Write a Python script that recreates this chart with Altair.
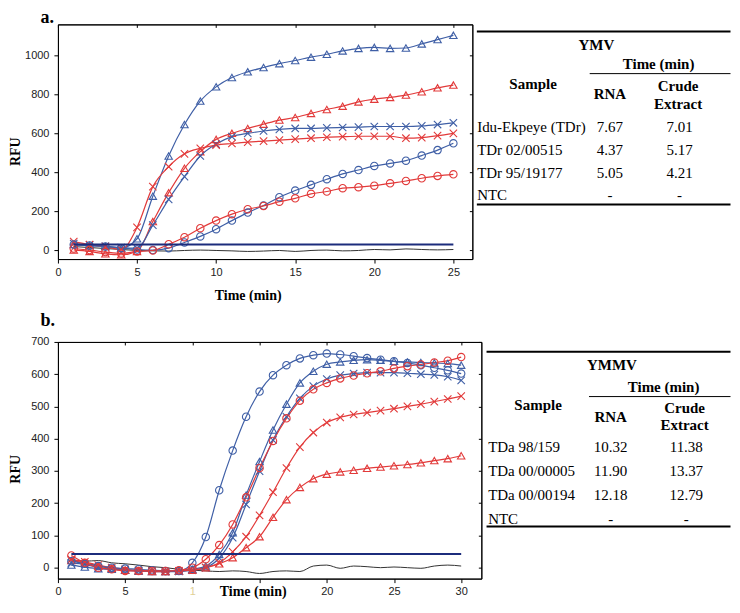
import altair as alt
import pandas as pd

# ---------------- data: panel a (YMV) ----------------
A_TIME = list(range(1, 26))
A_BLUE_TRI = [30, 25, 20, 12, 60, 278, 484, 645, 765, 838, 886, 915, 937, 957, 973,
              990, 1005, 1022, 1035, 1040, 1035, 1037, 1058, 1080, 1102]
A_RED_TRI = [3, -5, -17, -22, -5, 148, 296, 421, 506, 569, 600, 625, 647, 668, 681,
             702, 722, 739, 761, 775, 784, 796, 813, 833, 847]
A_BLUE_X = [35, 28, 22, 15, 12, 130, 262, 378, 484, 545, 583, 600, 612, 620, 625,
            625, 628, 630, 632, 635, 635, 635, 638, 645, 654]
A_RED_X = [45, 30, 20, 5, 118, 327, 429, 495, 523, 540, 548, 555, 560, 565, 570,
           575, 580, 583, 585, 585, 585, 575, 578, 588, 600]
A_BLUE_CIRC = [30, 25, 20, 12, 5, 2, 12, 41, 72, 109, 153, 194, 230, 273, 307,
               336, 365, 392, 412, 433, 446, 460, 486, 514, 549]
A_RED_CIRC = [10, 2, -8, -15, -5, 0, 32, 68, 114, 153, 186, 211, 228, 250, 267,
              290, 302, 319, 324, 332, 344, 356, 370, 382, 390]
A_NTC = [20, 15, 10, 5, 0, -2, -3, 0, 2, 0, -2, -5, -3, 0, -5,
         0, 2, -2, 0, 5, 3, 8, 5, 3, 5]
A_THRESHOLD = 30

# ---------------- data: panel b (YMMV) ----------------
B_TIME = list(range(1, 31))
B_BLUE_CIRC = [20, 12, 5, 0, -3, -5, -8, -10, -10, 15, 95, 240, 363, 468, 546,
               597, 628, 649, 659, 664, 661, 656, 650, 645, 640, 635, 628, 620, 612, 602]
B_RED_CIRC = [38, 15, 0, -5, -10, -10, -10, -10, -8, 0, 26, 70, 134, 218, 309,
              393, 463, 518, 553, 573, 587, 596, 603, 609, 618, 625, 630, 636, 642, 653]
B_BLUE_TRI = [8, 2, -3, -5, -8, -10, -12, -12, -10, -5, 5, 41, 108, 225, 329,
              427, 507, 573, 609, 631, 638, 643, 645, 643, 640, 638, 636, 635, 633, 628]
B_BLUE_X = [15, 10, 0, -5, -8, -10, -10, -12, -12, -8, 0, 30, 93, 196, 299,
            396, 468, 525, 563, 585, 597, 602, 605, 605, 605, 603, 600, 598, 592, 581]
B_RED_X = [25, 18, 8, 0, -5, -8, -10, -12, -10, -8, 0, 15, 49, 96, 162,
           234, 309, 374, 419, 450, 466, 475, 481, 487, 493, 500, 507, 515, 523, 532]
B_RED_TRI = [22, 15, 5, -2, -8, -10, -12, -12, -10, -8, 0, 12, 31, 62, 96,
             156, 211, 249, 276, 290, 297, 302, 308, 312, 316, 320, 325, 332, 338, 347]
B_NTC = [25, 20, 22, 15, 12, 8, 3, 0, -5, -8, -10, -12, -10, -12, -18,
         -12, -10, -12, 5, 8, -2, 5, 3, 0, 2, 0, -2, 5, 8, 5]
B_THRESHOLD = 42

# ---------------- table contents ----------------
A_VIRUS = "YMV"
A_SAMPLES = ["Idu-Ekpeye (TDr)", "TDr 02/00515", "TDr 95/19177", "NTC"]
A_RNA = ["7.67", "4.37", "5.05", "-"]
A_CRUDE = ["7.01", "5.17", "4.21", "-"]

B_VIRUS = "YMMV"
B_SAMPLES = ["TDa 98/159", "TDa 00/00005", "TDa 00/00194", "NTC"]
B_RNA = ["10.32", "11.90", "12.18", "-"]
B_CRUDE = ["11.38", "13.37", "12.79", "-"]

# ---------------- styling ----------------
SERIES = ["blue_tri", "red_tri", "blue_x", "red_x", "blue_circ", "red_circ"]
BLUE = "#3f5fa6"
RED = "#e23a3a"
NAVY = "#1c2c7c"
XPATH = "M-1,-1L1,1M1,-1L-1,1"
COLORS = [BLUE, RED, BLUE, RED, BLUE, RED]
SHAPES = ["triangle-up", "triangle-up", XPATH, XPATH, "circle", "circle"]
SIZES = [55, 55, 85, 85, 45, 45]
SERIF = "Liberation Serif"
SANS = "Liberation Sans"
ONE = pd.DataFrame({"k": [0]})


def long_df(time, arrays):
    rows = []
    for name, arr in zip(SERIES, arrays):
        for t, v in zip(time, arr):
            rows.append({"t": t, "v": v, "s": name})
    return pd.DataFrame(rows)


def txt(s, x, y, bold=False, align="center", size=15):
    return alt.Chart(ONE).mark_text(
        text=s, font=SERIF, fontSize=size, fontWeight="bold" if bold else "normal",
        align=align, baseline="middle", color="black"
    ).encode(x=alt.value(x), y=alt.value(y))


def hrule(x1, x2, y, w):
    return alt.Chart(ONE).mark_rule(color="black", strokeWidth=w).encode(
        x=alt.value(x1), x2=alt.value(x2), y=alt.value(y))


def table_layers(lay, virus, samples, rna, crude):
    L = []
    L.append(hrule(lay["x1"], lay["x2"], lay["top"], 2))
    L.append(txt(virus, lay["virus_x"], lay["virus_y"], bold=True))
    L.append(txt("Time (min)", lay["time_x"], lay["time_y"], bold=True))
    L.append(hrule(lay["sub_x1"], lay["x2"], lay["sub_y"], 1))
    L.append(txt("Sample", lay["sample_x"], lay["sample_y"], bold=True))
    L.append(txt("RNA", lay["rna_x"], lay["rna_y"], bold=True))
    L.append(txt("Crude", lay["crude_x"], lay["crude_y1"], bold=True))
    L.append(txt("Extract", lay["crude_x"], lay["crude_y2"], bold=True))
    for i, (s, r, c) in enumerate(zip(samples, rna, crude)):
        y = lay["row_y"][i]
        L.append(txt(s, lay["row_x"], y, align="left"))
        L.append(txt(r, lay["rna_x"], y))
        L.append(txt(c, lay["crude_val_x"], y))
    L.append(hrule(lay["x1"], lay["x2"], lay["bottom"], 2))
    return L


def panel(time, arrays, ntc, thr, W, H, xdom, ydom, xticks, yticks, letter,
          xtitle_x, xtitle_y, tlay, virus, samples, rna, crude, xlabel_expr=None,
          xlabel_color=None):
    df = long_df(time, arrays)
    ntc_df = pd.DataFrame({"t": time, "v": ntc})
    thr_df = pd.DataFrame({"t": [time[0], time[-1]], "v": [thr, thr]})
    xs = alt.Scale(domain=xdom, nice=False, zero=False)
    ys = alt.Scale(domain=ydom, nice=False, zero=False)

    xkw = dict(orient="bottom", values=xticks, grid=False, tickSize=4, tickColor="black",
               domainColor="black", labelFont=SANS, labelFontSize=11, labelColor="#222",
               labelPadding=3, labelFlush=False, title="Time (min)", titleFont=SERIF,
               titleFontSize=14, titleFontWeight="bold", titleColor="black",
               titleX=xtitle_x, titleY=xtitle_y, titleBaseline="middle")
    if xlabel_expr:
        xkw["labelExpr"] = xlabel_expr
    if xlabel_color:
        xkw["labelColor"] = xlabel_color
    main_x = alt.Axis(**xkw)
    main_y = alt.Axis(orient="left", values=yticks, format="d", grid=False, tickSize=4,
                      tickColor="black", domainColor="black", labelFont=SANS,
                      labelFontSize=11, labelColor="#222", labelPadding=5, title="RFU",
                      titleFont=SERIF, titleFontSize=14, titleFontWeight="bold",
                      titleColor="black", titleX=-35.5, titleY=127, titleAngle=270,
                      titleBaseline="bottom", titleAlign="center")
    mirror_x = alt.Axis(orient="bottom", offset=-H, values=xticks, grid=False, tickSize=3,
                        tickColor="black", domainColor="black", labels=False, title=None)
    mirror_y = alt.Axis(orient="left", offset=-W, values=yticks, grid=False, tickSize=3,
                        tickColor="black", domainColor="black", labels=False, title=None)

    ntc_layer = alt.Chart(ntc_df).mark_line(color="#333333", strokeWidth=1,
                                             interpolate="monotone").encode(
        x=alt.X("t:Q", scale=xs, axis=main_x), y=alt.Y("v:Q", scale=ys, axis=main_y))
    cscale = alt.Scale(domain=SERIES, range=COLORS)
    lines = alt.Chart(df).mark_line(strokeWidth=1.2, interpolate="monotone").encode(
        x=alt.X("t:Q", scale=xs, axis=None), y=alt.Y("v:Q", scale=ys, axis=None),
        color=alt.Color("s:N", scale=cscale, legend=None), detail="s:N")
    points = alt.Chart(df).mark_point(filled=False, strokeWidth=1.1, opacity=1).encode(
        x=alt.X("t:Q", scale=xs, axis=None), y=alt.Y("v:Q", scale=ys, axis=None),
        color=alt.Color("s:N", scale=cscale, legend=None),
        shape=alt.Shape("s:N", scale=alt.Scale(domain=SERIES, range=SHAPES), legend=None),
        size=alt.Size("s:N", scale=alt.Scale(domain=SERIES, range=SIZES), legend=None))
    thr_layer = alt.Chart(thr_df).mark_line(color=NAVY, strokeWidth=2).encode(
        x=alt.X("t:Q", scale=xs, axis=mirror_x), y=alt.Y("v:Q", scale=ys, axis=mirror_y))
    letter_layer = alt.Chart(ONE).mark_text(
        text=letter["text"], font=SERIF, fontSize=18, fontWeight="bold", align="left",
        baseline="top", color="black").encode(x=alt.value(letter["x"]), y=alt.value(letter["y"]))

    layers = [ntc_layer, lines, points, thr_layer, letter_layer] + table_layers(
        tlay, virus, samples, rna, crude)
    return alt.layer(*layers).resolve_axis(x="independent", y="independent").properties(
        width=W, height=H)


A_LAYOUT = dict(x1=419.5, x2=673.5, top=7, virus_x=539.2, virus_y=21, time_x=601.5,
                time_y=39.3, sub_x1=532.5, sub_y=49.3, sample_x=475.8, sample_y=59.3,
                rna_x=552.8, rna_y=70, crude_x=621, crude_y1=62, crude_y2=79.3,
                row_x=419.8, row_y=[102.7, 125.3, 148.7, 171], crude_val_x=622.5,
                bottom=180.3)
B_LAYOUT = dict(x1=429.2, x2=673.5, top=9.7, virus_x=554.8, virus_y=23, time_x=606.5,
                time_y=44.7, sub_x1=531.8, sub_y=54.7, sample_x=480.8, sample_y=63,
                rna_x=553.5, rna_y=74.7, crude_x=627.5, crude_y1=66.3, crude_y2=83,
                row_x=430.8, row_y=[105.3, 129.7, 153, 177], crude_val_x=629.2,
                bottom=184.7)

pa = panel(A_TIME, [A_BLUE_TRI, A_RED_TRI, A_BLUE_X, A_RED_X, A_BLUE_CIRC, A_RED_CIRC],
           A_NTC, A_THRESHOLD, 415, 235, [0, 26.2], [-44, 1158], [0, 5, 10, 15, 20, 25],
           [0, 200, 400, 600, 800, 1000], {"text": "a.", "x": -17.5, "y": -15},
           190, 36.7, A_LAYOUT, A_VIRUS, A_SAMPLES, A_RNA, A_CRUDE)

pb = panel(B_TIME, [B_BLUE_TRI, B_RED_TRI, B_BLUE_X, B_RED_X, B_BLUE_CIRC, B_RED_CIRC],
           B_NTC, B_THRESHOLD, 424, 237, [0, 31.5], [-34, 700], [0, 5, 10, 15, 20, 25, 30],
           [0, 100, 200, 300, 400, 500, 600, 700], {"text": "b.", "x": -17.5, "y": -30},
           195, 13, B_LAYOUT, B_VIRUS, B_SAMPLES, B_RNA, B_CRUDE,
           xlabel_expr="datum.value == 10 ? '1' : (datum.value == 15 ? '' : datum.label)",
           xlabel_color={"condition": {"test": "datum.value == 10", "value": "#e0cf95"},
                         "value": "#222"})

chart = alt.vconcat(pa, pb, spacing=7).resolve_scale(
    x="independent", y="independent").properties(padding=0).configure_view(
    stroke="black", strokeWidth=1)

chart.save("out.html", embed_options={"renderer": "svg", "actions": False})
